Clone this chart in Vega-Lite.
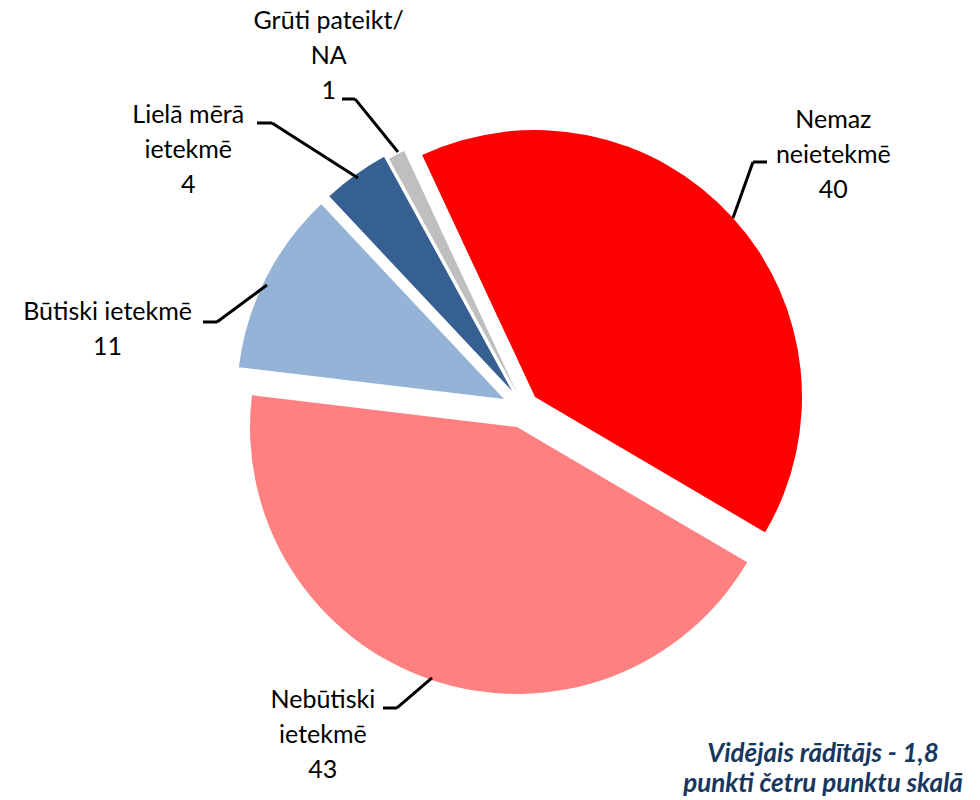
{
  "$schema": "https://vega.github.io/schema/vega-lite/v6.json",
  "width": 912,
  "height": 786,
  "autosize": "none",
  "padding": {"left": 68, "top": 14, "right": 0, "bottom": 0},
  "background": "white",
  "config": {"view": {"stroke": null}},
  "title": {
    "text": ["Vidējais rādītājs - 1,8", "punkti četru punktu skalā"],
    "orient": "bottom",
    "anchor": "end",
    "frame": "group",
    "align": "center",
    "baseline": "alphabetic",
    "dx": -157,
    "offset": -38,
    "font": "Lato",
    "fontSize": 26,
    "fontStyle": "italic",
    "fontWeight": "bold",
    "color": "#17375E",
    "lineHeight": 30
  },
  "datasets": {
    "answers": [
      {"cat": "Nemaz neietekmē", "ord": 1, "value": 40, "lbl": "Nemaz\nneietekmē\n40"},
      {"cat": "Nebūtiski ietekmē", "ord": 2, "value": 43, "lbl": "Nebūtiski\nietekmē\n43"},
      {"cat": "Būtiski ietekmē", "ord": 3, "value": 11, "lbl": "Būtiski ietekmē\n11"},
      {"cat": "Lielā mērā ietekmē", "ord": 4, "value": 4, "lbl": "Lielā mērā\nietekmē\n4"},
      {"cat": "Grūti pateikt/NA", "ord": 5, "value": 1, "lbl": "Grūti pateikt/\nNA\n1"}
    ]
  },
  "data": {"name": "answers"},
  "encoding": {
    "theta": {"field": "value", "type": "quantitative", "stack": true, "scale": {"range": [-0.43633, 5.84685]}},
    "order": {"field": "ord", "type": "quantitative", "sort": "ascending"}
  },
  "layer": [
    {"mark": {"type": "arc", "radius": 267, "xOffset": 11, "yOffset": -10, "strokeWidth": 0, "fill": "#FF0000"},
     "encoding": {"opacity": {"condition": {"test": "datum.cat === 'Nemaz neietekmē'", "value": 1}, "value": 0}}},
    {"mark": {"type": "arc", "radius": 267, "xOffset": -7, "yOffset": 20, "strokeWidth": 0, "fill": "#FF8080"},
     "encoding": {"opacity": {"condition": {"test": "datum.cat === 'Nebūtiski ietekmē'", "value": 1}, "value": 0}}},
    {"mark": {"type": "arc", "radius": 267, "xOffset": -20, "yOffset": -8, "strokeWidth": 0, "fill": "#95B3D7"},
     "encoding": {"opacity": {"condition": {"test": "datum.cat === 'Būtiski ietekmē'", "value": 1}, "value": 0}}},
    {"mark": {"type": "arc", "radius": 267, "xOffset": -12, "yOffset": -16, "strokeWidth": 0, "fill": "#376092"},
     "encoding": {"opacity": {"condition": {"test": "datum.cat === 'Lielā mērā ietekmē'", "value": 1}, "value": 0}}},
    {"mark": {"type": "arc", "radius": 267, "xOffset": -7, "yOffset": -14, "strokeWidth": 0, "fill": "#BFBFBF"},
     "encoding": {"opacity": {"condition": {"test": "datum.cat === 'Grūti pateikt/NA'", "value": 1}, "value": 0}}},

    {"transform": [{"stack": "value", "groupby": [], "sort": [{"field": "ord", "order": "ascending"}], "as": ["v0", "v1"]}, {"filter": "datum.cat === 'Nemaz neietekmē'"}],
     "mark": {"type": "arc", "filled": false, "stroke": "black", "strokeWidth": 3, "radius": 326.5, "radius2": 267, "thetaOffset": 0.77929, "theta2Offset": 0.77929, "xOffset": 119.2, "yOffset": 62.5},
     "encoding": {"theta": {"field": "v0", "type": "quantitative", "stack": null, "scale": {"range": [-0.43633, 5.84685]}}, "theta2": {"field": "v0"}}},
    {"transform": [{"stack": "value", "groupby": [], "sort": [{"field": "ord", "order": "ascending"}], "as": ["v0", "v1"]}, {"filter": "datum.cat === 'Nemaz neietekmē'"}],
     "mark": {"type": "arc", "filled": false, "stroke": "black", "strokeWidth": 3, "radius": 281, "radius2": 267, "thetaOffset": 2.00713, "theta2Offset": 2.00713, "xOffset": -38, "yOffset": -245},
     "encoding": {"theta": {"field": "v0", "type": "quantitative", "stack": null, "scale": {"range": [-0.43633, 5.84685]}}, "theta2": {"field": "v0"}}},
    {"transform": [{"stack": "value", "groupby": [], "sort": [{"field": "ord", "order": "ascending"}], "as": ["v0", "v1"]}, {"filter": "datum.cat === 'Nebūtiski ietekmē'"}],
     "mark": {"type": "arc", "filled": false, "stroke": "black", "strokeWidth": 3, "radius": 313.1, "radius2": 267, "thetaOffset": 1.90145, "theta2Offset": 1.90145, "xOffset": 110.7, "yOffset": 97.2},
     "encoding": {"theta": {"field": "v0", "type": "quantitative", "stack": null, "scale": {"range": [-0.43633, 5.84685]}}, "theta2": {"field": "v0"}}},
    {"transform": [{"stack": "value", "groupby": [], "sort": [{"field": "ord", "order": "ascending"}], "as": ["v0", "v1"]}, {"filter": "datum.cat === 'Nebūtiski ietekmē'"}],
     "mark": {"type": "arc", "filled": false, "stroke": "black", "strokeWidth": 3, "radius": 281, "radius2": 267, "thetaOffset": 2.61006, "theta2Offset": 2.61006, "xOffset": 140, "yOffset": 301},
     "encoding": {"theta": {"field": "v0", "type": "quantitative", "stack": null, "scale": {"range": [-0.43633, 5.84685]}}, "theta2": {"field": "v0"}}},
    {"transform": [{"stack": "value", "groupby": [], "sort": [{"field": "ord", "order": "ascending"}], "as": ["v0", "v1"]}, {"filter": "datum.cat === 'Būtiski ietekmē'"}],
     "mark": {"type": "arc", "filled": false, "stroke": "black", "strokeWidth": 3, "radius": 329.2, "radius2": 267, "thetaOffset": -0.75604, "theta2Offset": -0.75604, "xOffset": -42.4, "yOffset": -280.8},
     "encoding": {"theta": {"field": "v0", "type": "quantitative", "stack": null, "scale": {"range": [-0.43633, 5.84685]}}, "theta2": {"field": "v0"}}},
    {"transform": [{"stack": "value", "groupby": [], "sort": [{"field": "ord", "order": "ascending"}], "as": ["v0", "v1"]}, {"filter": "datum.cat === 'Būtiski ietekmē'"}],
     "mark": {"type": "arc", "filled": false, "stroke": "black", "strokeWidth": 3, "radius": 281, "radius2": 267, "thetaOffset": -0.119, "theta2Offset": -0.119, "xOffset": -40, "yOffset": -85},
     "encoding": {"theta": {"field": "v0", "type": "quantitative", "stack": null, "scale": {"range": [-0.43633, 5.84685]}}, "theta2": {"field": "v0"}}},
    {"transform": [{"stack": "value", "groupby": [], "sort": [{"field": "ord", "order": "ascending"}], "as": ["v0", "v1"]}, {"filter": "datum.cat === 'Lielā mērā ietekmē'"}],
     "mark": {"type": "arc", "filled": false, "stroke": "black", "strokeWidth": 3, "radius": 369.1, "radius2": 267, "thetaOffset": -0.24815, "theta2Offset": -0.24815, "xOffset": 58.9, "yOffset": -85.1},
     "encoding": {"theta": {"field": "v0", "type": "quantitative", "stack": null, "scale": {"range": [-0.43633, 5.84685]}}, "theta2": {"field": "v0"}}},
    {"transform": [{"stack": "value", "groupby": [], "sort": [{"field": "ord", "order": "ascending"}], "as": ["v0", "v1"]}, {"filter": "datum.cat === 'Lielā mērā ietekmē'"}],
     "mark": {"type": "arc", "filled": false, "stroke": "black", "strokeWidth": 3, "radius": 282, "radius2": 267, "thetaOffset": -0.81713, "theta2Offset": -0.81713, "xOffset": 15, "yOffset": -284},
     "encoding": {"theta": {"field": "v0", "type": "quantitative", "stack": null, "scale": {"range": [-0.43633, 5.84685]}}, "theta2": {"field": "v0"}}},
    {"transform": [{"stack": "value", "groupby": [], "sort": [{"field": "ord", "order": "ascending"}], "as": ["v0", "v1"]}, {"filter": "datum.cat === 'Grūti pateikt/NA'"}],
     "mark": {"type": "arc", "filled": false, "stroke": "black", "strokeWidth": 3, "radius": 335.3, "radius2": 267, "thetaOffset": -0.18175, "theta2Offset": -0.18175, "xOffset": 42.2, "yOffset": -47.7},
     "encoding": {"theta": {"field": "v0", "type": "quantitative", "stack": null, "scale": {"range": [-0.43633, 5.84685]}}, "theta2": {"field": "v0"}}},
    {"transform": [{"stack": "value", "groupby": [], "sort": [{"field": "ord", "order": "ascending"}], "as": ["v0", "v1"]}, {"filter": "datum.cat === 'Grūti pateikt/NA'"}],
     "mark": {"type": "arc", "filled": false, "stroke": "black", "strokeWidth": 3, "radius": 280, "radius2": 267, "thetaOffset": -1.07099, "theta2Offset": -1.07099, "xOffset": 98, "yOffset": -308},
     "encoding": {"theta": {"field": "v0", "type": "quantitative", "stack": null, "scale": {"range": [-0.43633, 5.84685]}}, "theta2": {"field": "v0"}}},

    {"transform": [{"stack": "value", "groupby": [], "sort": [{"field": "ord", "order": "ascending"}], "as": ["v0", "v1"]}, {"filter": "datum.cat === 'Nemaz neietekmē'"}],
     "mark": {"type": "text", "radius": 400, "thetaOffset": 1.27807, "dx": 11, "dy": -13, "font": "Lato", "fontSize": 25, "lineHeight": 35, "align": "center", "baseline": "alphabetic", "lineBreak": "\n", "color": "black"},
     "encoding": {"theta": {"field": "v0", "type": "quantitative", "stack": null, "scale": {"range": [-0.43633, 5.84685]}}, "text": {"field": "lbl"}}},
    {"transform": [{"stack": "value", "groupby": [], "sort": [{"field": "ord", "order": "ascending"}], "as": ["v0", "v1"]}, {"filter": "datum.cat === 'Nebūtiski ietekmē'"}],
     "mark": {"type": "text", "radius": 400, "thetaOffset": 1.37326, "dx": -70, "dy": -77, "font": "Lato", "fontSize": 25, "lineHeight": 35, "align": "center", "baseline": "alphabetic", "lineBreak": "\n", "color": "black"},
     "encoding": {"theta": {"field": "v0", "type": "quantitative", "stack": null, "scale": {"range": [-0.43633, 5.84685]}}, "text": {"field": "lbl"}}},
    {"transform": [{"stack": "value", "groupby": [], "sort": [{"field": "ord", "order": "ascending"}], "as": ["v0", "v1"]}, {"filter": "datum.cat === 'Būtiski ietekmē'"}],
     "mark": {"type": "text", "radius": 400, "thetaOffset": 0.35779, "dx": -61, "dy": 97, "font": "Lato", "fontSize": 25, "lineHeight": 35, "align": "center", "baseline": "alphabetic", "lineBreak": "\n", "color": "black"},
     "encoding": {"theta": {"field": "v0", "type": "quantitative", "stack": null, "scale": {"range": [-0.43633, 5.84685]}}, "text": {"field": "lbl"}}},
    {"transform": [{"stack": "value", "groupby": [], "sort": [{"field": "ord", "order": "ascending"}], "as": ["v0", "v1"]}, {"filter": "datum.cat === 'Lielā mērā ietekmē'"}],
     "mark": {"type": "text", "radius": 400, "thetaOffset": 0.13566, "dx": -104, "dy": 42, "font": "Lato", "fontSize": 25, "lineHeight": 35, "align": "center", "baseline": "alphabetic", "lineBreak": "\n", "color": "black"},
     "encoding": {"theta": {"field": "v0", "type": "quantitative", "stack": null, "scale": {"range": [-0.43633, 5.84685]}}, "text": {"field": "lbl"}}},
    {"transform": [{"stack": "value", "groupby": [], "sort": [{"field": "ord", "order": "ascending"}], "as": ["v0", "v1"]}, {"filter": "datum.cat === 'Grūti pateikt/NA'"}],
     "mark": {"type": "text", "radius": 400, "thetaOffset": 0.04046, "dx": -18, "dy": -19, "font": "Lato", "fontSize": 25, "lineHeight": 35, "align": "center", "baseline": "alphabetic", "lineBreak": "\n", "color": "black"},
     "encoding": {"theta": {"field": "v0", "type": "quantitative", "stack": null, "scale": {"range": [-0.43633, 5.84685]}}, "text": {"field": "lbl"}}}
  ]
}
